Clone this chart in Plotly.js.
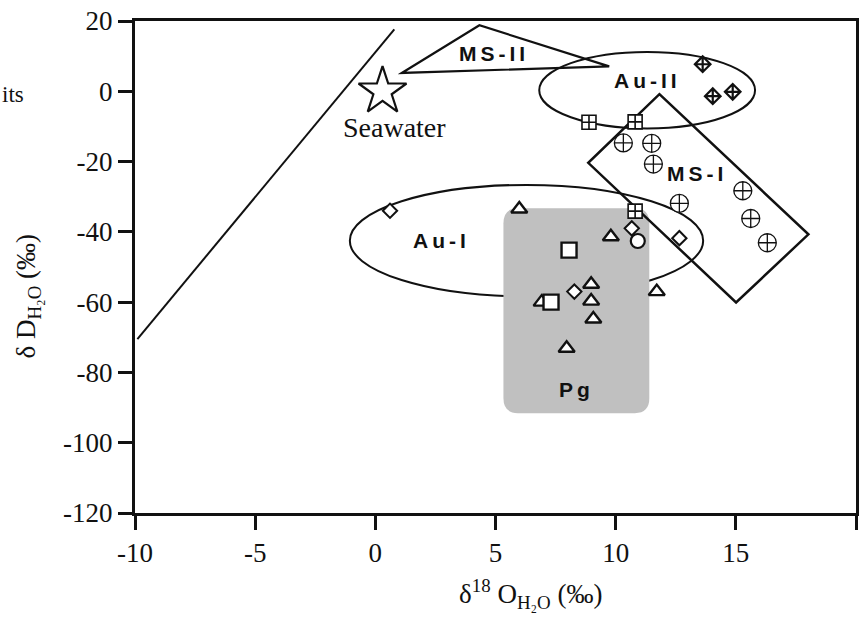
<!DOCTYPE html>
<html><head><meta charset="utf-8">
<script src="https://cdn.plot.ly/plotly-3.0.1.min.js"></script>
<style>
html,body{margin:0;padding:0;background:#fff;}
#chart{width:861px;height:619px;}
.annotation[data-index="0"] text,.annotation[data-index="1"] text,.annotation[data-index="2"] text,.annotation[data-index="3"] text,.annotation[data-index="4"] text{letter-spacing:4px;}
</style></head>
<body><div id="chart"></div>
<script>
// ---- data ----
const triangleX = [5.99, 9.80, 11.71, 8.98, 8.98, 9.07, 7.96, 6.92];
const triangleY = [-33.5, -41.4, -57.0, -54.9, -59.7, -64.8, -73.1, -60.0];
const squareX = [8.06, 7.31];
const squareY = [-45.2, -60.0];
const diamondX = [0.61, 10.67, 12.65, 8.28];
const diamondY = [-34.0, -39.0, -41.8, -57.0];
const circleX = [10.92];
const circleY = [-42.6];
const squareCrossX = [8.89, 10.81, 10.81];
const squareCrossY = [-8.8, -8.7, -34.1];
const circleCrossX = [10.32, 11.50, 11.57, 12.65, 15.29, 15.62, 16.31];
const circleCrossY = [-14.7, -14.8, -20.7, -31.9, -28.3, -36.2, -43.1];
const diamondCrossX = [13.62, 14.04, 14.87];
const diamondCrossY = [7.7, -1.4, -0.15];
const seawaterX = [0.3];
const seawaterY = [0];
const mwlX = [-9.9, 0.79];
const mwlY = [-70.5, 17.6];

// regions
const ellipseCx = [6.29, 11.31];
const ellipseCy = [-42.5, 0.31];
const ellipseRx = [7.35, 4.49];
const ellipseRy = [15.86, 10.9];
const msIIX = [1.10, 4.33, 9.73];
const msIIY = [5.22, 18.8, 7.1];
const msIX = [11.82, 18.02, 15.01, 8.86];
const msIY = [-0.83, -40.7, -60.1, -20.35];
const pgX = [5.33, 11.40];
const pgY = [-91.6, -33.3];

const labelText = ['MS-II', 'Au-II', 'MS-I', 'Au-I', 'Pg'];
const labelX = [4.95, 11.32, 13.40, 2.74, 8.36];
const labelY = [10.8, 3.15, -23.4, -42.4, -84.9];

const xTicks = [-10, -5, 0, 5, 10, 15, 20];
const yTicks = [20, 0, -20, -40, -60, -80, -100, -120];

// ---- build ----
const SERIF = '"Liberation Serif", "Times New Roman", Times, serif';
const SANS = '"Liberation Sans", Arial, Helvetica, sans-serif';

function polyPath(xs, ys) {
  return 'M' + xs.map((x, i) => x + ',' + ys[i]).join(' L') + ' Z';
}
function roundRectPath(x0, x1, y0, y1, rx, ry) {
  return 'M' + (x0 + rx) + ',' + y1 +
    ' L' + (x1 - rx) + ',' + y1 + ' Q' + x1 + ',' + y1 + ' ' + x1 + ',' + (y1 - ry) +
    ' L' + x1 + ',' + (y0 + ry) + ' Q' + x1 + ',' + y0 + ' ' + (x1 - rx) + ',' + y0 +
    ' L' + (x0 + rx) + ',' + y0 + ' Q' + x0 + ',' + y0 + ' ' + x0 + ',' + (y0 + ry) +
    ' L' + x0 + ',' + (y1 - ry) + ' Q' + x0 + ',' + y1 + ' ' + (x0 + rx) + ',' + y1 + ' Z';
}

const shapes = [];
for (let i = 0; i < ellipseCx.length; i++) {
  shapes.push({type: 'circle', layer: 'below', xref: 'x', yref: 'y',
    x0: ellipseCx[i] - ellipseRx[i], x1: ellipseCx[i] + ellipseRx[i],
    y0: ellipseCy[i] - ellipseRy[i], y1: ellipseCy[i] + ellipseRy[i],
    line: {color: '#111', width: 2}, fillcolor: 'rgba(0,0,0,0)'});
}
shapes.push({type: 'path', layer: 'below', path: roundRectPath(pgX[0], pgX[1], pgY[0], pgY[1], 0.6, 4.3),
  fillcolor: '#c0c0c0', line: {width: 0}});
shapes.push({type: 'path', layer: 'below', path: polyPath(msIIX, msIIY), line: {color: '#111', width: 2.2}, fillcolor: 'rgba(0,0,0,0)'});
shapes.push({type: 'path', layer: 'below', path: polyPath(msIX, msIY), line: {color: '#111', width: 2.5}, fillcolor: 'rgba(0,0,0,0)'});

function markerTrace(x, y, symbol, size, lw) {
  return {x: x, y: y, type: 'scatter', mode: 'markers', showlegend: false, hoverinfo: 'skip',
    marker: {symbol: symbol, size: size, color: '#fff', line: {color: '#111', width: lw}}};
}

const traces = [
  {x: mwlX, y: mwlY, type: 'scatter', mode: 'lines', line: {color: '#111', width: 2}, showlegend: false, hoverinfo: 'skip'},
  markerTrace(triangleX, triangleY, 'triangle-up', 14, 2.4),
  markerTrace(squareX, squareY, 'square', 15, 2.4),
  markerTrace(squareCrossX, squareCrossY, 'square-cross', 14, 1.6),
  markerTrace(diamondX, diamondY, 'diamond', 11, 2),
  markerTrace(circleX, circleY, 'circle', 14, 2.2),
  markerTrace(circleCrossX, circleCrossY, 'circle-cross', 18, 1.3),
  markerTrace(diamondCrossX, diamondCrossY, 'diamond-cross', 12, 2.2),
  {x: seawaterX, y: seawaterY, type: 'scatter', mode: 'markers', showlegend: false, hoverinfo: 'skip',
    marker: {symbol: 'star-open', size: 36, color: '#111', line: {color: '#111', width: 2.2}}}
];

const annotations = labelText.map((t, i) => ({
  text: t, x: labelX[i], y: labelY[i], xref: 'x', yref: 'y', showarrow: false,
  xanchor: 'center', yanchor: 'middle',
  font: {family: SANS, size: 21, color: '#111', weight: 'bold'}
}));
annotations.push({text: 'Seawater', x: 0.80, y: -10.2, xref: 'x', yref: 'y', showarrow: false,
  xanchor: 'center', yanchor: 'middle',
  font: {family: SERIF, size: 28, color: '#111'}});
annotations.push({text: 'its', x: -0.1872, y: 0.851, xref: 'paper', yref: 'paper', xanchor: 'left', yanchor: 'middle', showarrow: false,
  font: {family: SERIF, size: 23, color: '#111'}});
annotations.push({text: 'δ D<sub>H₂O</sub> (‰)', x: -0.1484, y: 0.44, xref: 'paper', yref: 'paper', textangle: -90,
  xanchor: 'center', yanchor: 'middle', showarrow: false,
  font: {family: SERIF, size: 27, color: '#111'}});
annotations.push({text: 'δ<sup>18</sup>\u00a0O<sub>H₂O</sub>\u00a0(‰)', x: 0.548, y: -0.165, xref: 'paper', yref: 'paper',
  xanchor: 'center', yanchor: 'middle', showarrow: false,
  font: {family: SERIF, size: 27, color: '#111'}});

const axisCommon = {showgrid: false, zeroline: false, showline: true, mirror: true, linecolor: '#111', linewidth: 3,
  ticks: 'outside', ticklen: 14, tickwidth: 3, tickcolor: '#111',
  tickfont: {family: SERIF, size: 27, color: '#111'}};

const layout = {
  width: 861, height: 619,
  margin: {l: 135, r: 5, t: 21, b: 106},
  paper_bgcolor: '#fff', plot_bgcolor: '#fff',
  font: {family: SERIF, color: '#111'},
  xaxis: Object.assign({}, axisCommon, {range: [-10, 20], tickvals: xTicks, ticktext: xTicks.map(String)}),
  yaxis: Object.assign({}, axisCommon, {range: [-120, 20], tickvals: yTicks, ticktext: yTicks.map(String)}),
  shapes: shapes,
  annotations: annotations,
  showlegend: false
};

Plotly.newPlot('chart', traces, layout, {displayModeBar: false, staticPlot: true});
</script>
</body></html>
